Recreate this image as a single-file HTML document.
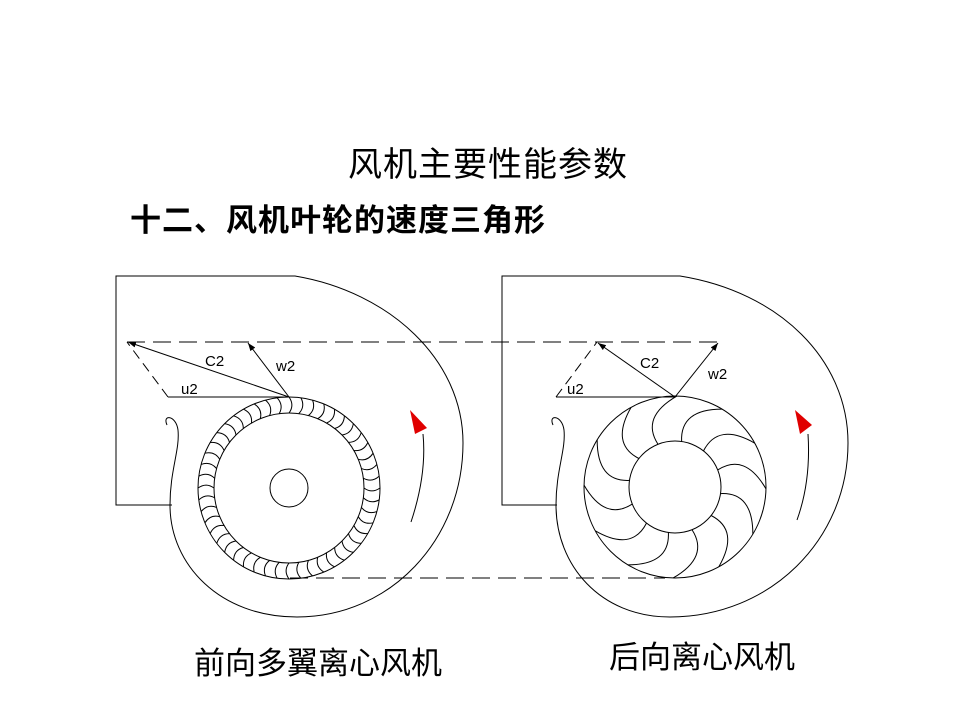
<!DOCTYPE html>
<html><head><meta charset="utf-8"><style>
html,body{margin:0;padding:0;background:#fff;width:960px;height:720px;overflow:hidden}
.t{position:absolute;font-family:"Liberation Sans","Noto Sans CJK SC",sans-serif;color:#000;white-space:nowrap}
</style></head><body>
<div class="t" style="left:348px;top:137px;font-size:34px;letter-spacing:1px">风机主要性能参数</div>
<div class="t" style="left:130px;top:195px;font-size:31px;font-weight:bold;letter-spacing:1px">十二、风机叶轮的速度三角形</div>
<div class="t" style="left:194px;top:638px;font-size:31px">前向多翼离心风机</div>
<div class="t" style="left:609px;top:632px;font-size:31px">后向离心风机</div>
<svg id="s" width="960" height="720" style="position:absolute;left:0;top:0" xmlns="http://www.w3.org/2000/svg">
<defs><marker id="a" markerWidth="8" markerHeight="6" refX="8" refY="3" orient="auto" markerUnits="userSpaceOnUse"><path d="M0,0 L8,3 L0,6z" fill="#000"/></marker></defs>
<g fill="none" stroke="#000" stroke-width="1">
<path d="M172,505 L116,505 L116,276 L295,276 C390,292 463,360 463,443 C463,540 390,617 297,617 C220,617 170,565 170,505 C170,470 180,450 178,430 C176,415 162,414 167,425"/>
<circle cx="289" cy="488" r="91"/><circle cx="289" cy="488" r="75"/><circle cx="289" cy="488" r="19"/>
<g id="fb"></g>
<path d="M127,342 L720,342" stroke-dasharray="18,8"/>
<path d="M290,578 L665,578" stroke-dasharray="18,8"/>
<line x1="289" y1="397" x2="128" y2="342" marker-end="url(#a)"/>
<line x1="289" y1="397" x2="248" y2="343" marker-end="url(#a)"/>
<line x1="289" y1="397" x2="168" y2="397"/>
<line x1="168" y1="397" x2="127" y2="342" stroke-dasharray="10,6"/>
<path d="M411,522 C420,495 426,465 423,434"/>
<path d="M557,505 L502,505 L502,276 L680,276 C780,292 848,360 848,443 C848,540 770,617 670,617 C600,617 556,565 556,505 C556,470 566,450 564,430 C562,415 548,414 553,425"/>
<circle cx="675" cy="487" r="91"/><circle cx="675" cy="487" r="46"/>
<g id="bb"></g>
<line x1="675" y1="397" x2="598" y2="343" marker-end="url(#a)"/>
<line x1="675" y1="397" x2="718" y2="343" marker-end="url(#a)"/>
<line x1="675" y1="397" x2="556" y2="397"/>
<line x1="556" y1="397" x2="597" y2="342" stroke-dasharray="10,6"/>
<path d="M797,520 C806,495 810,465 808,434"/>
</g>
<polygon points="410,410 427,428 415,434" fill="#e00000"/>
<polygon points="795,410 812,425 800,434" fill="#e00000"/>
<g font-family="Liberation Sans,sans-serif" font-size="15" fill="#000">
<text x="205" y="366">C2</text><text x="276" y="371">w2</text><text x="181" y="394">u2</text>
<text x="640" y="368">C2</text><text x="708" y="379">w2</text><text x="567" y="394">u2</text>
</g>
</svg>
<script>
var ns="http://www.w3.org/2000/svg";
function P(g,d){var p=document.createElementNS(ns,"path");p.setAttribute("d",d);document.getElementById(g).appendChild(p);}
(function(){var cx=289,cy=488,n=48;for(var i=0;i<n;i++){var t=i*2*Math.PI/n;
var x1=cx+75*Math.cos(t),y1=cy+75*Math.sin(t),x2=cx+91*Math.cos(t),y2=cy+91*Math.sin(t);
var tc=t+0.07,xc=cx+83*Math.cos(tc),yc=cy+83*Math.sin(tc);
P("fb","M"+x1+","+y1+" Q"+xc+","+yc+" "+x2+","+y2);}})();
(function(){var cx=675,cy=487,n=12;for(var i=0;i<n;i++){var t=i*2*Math.PI/n-1.95;
var x1=cx+46*Math.cos(t),y1=cy+46*Math.sin(t),t2=t+0.4,x2=cx+91*Math.cos(t2),y2=cy+91*Math.sin(t2);
var tc=t-0.08,xc=cx+78*Math.cos(tc),yc=cy+78*Math.sin(tc);
P("bb","M"+x1+","+y1+" Q"+xc+","+yc+" "+x2+","+y2);}})();
</script>
</body></html>
